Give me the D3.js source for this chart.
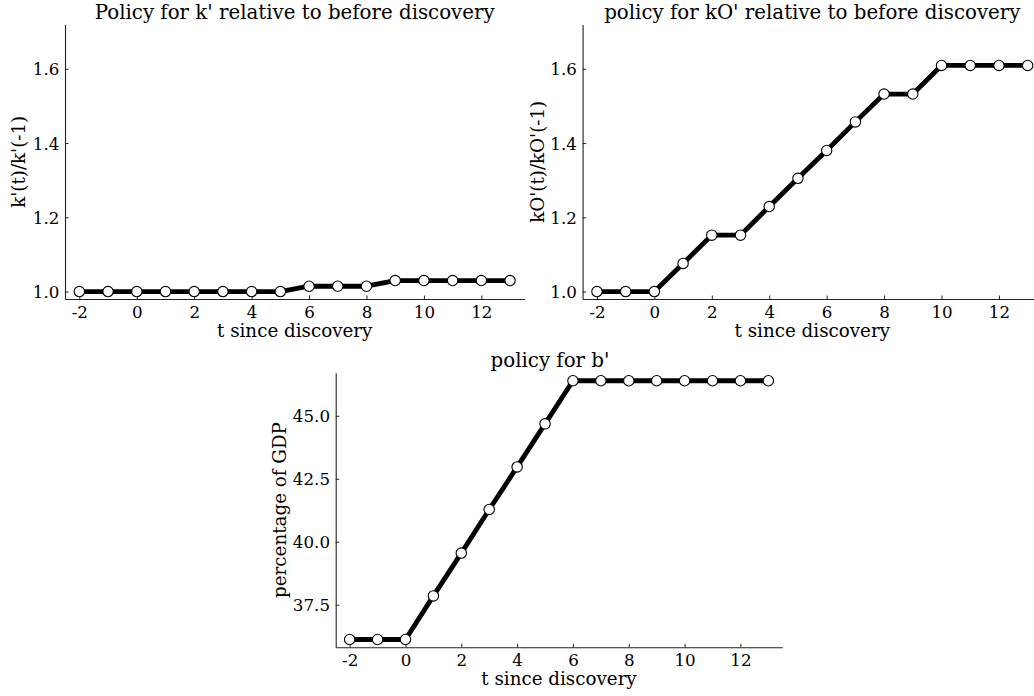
<!DOCTYPE html>
<html>
<head>
<meta charset="utf-8">
<script src="https://cdn.jsdelivr.net/npm/d3@7"></script>
<style>
  html, body { margin: 0; padding: 0; background: #fff; }
  svg { display: block; font-family: "DejaVu Serif", serif; }
  .tick text { font-family: "DejaVu Serif", serif; font-size: 16.7px; fill: #000; }
  .lbl { font-size: 18.3px; fill: #000; }
  .ttl { font-size: 19.8px; fill: #000; }
</style>
</head>
<body>
<svg id="fig" width="1034" height="696"></svg>
<script>
// periods since discovery
var t = [-2, -1, 0, 1, 2, 3, 4, 5, 6, 7, 8, 9, 10, 11, 12, 13];

// k'(t)/k'(-1)
var kRel = [1.0, 1.0, 1.0, 1.0, 1.0, 1.0, 1.0, 1.0, 1.0144, 1.0144, 1.0144, 1.0297, 1.0297, 1.0297, 1.0297, 1.0297];

// kO'(t)/kO'(-1)
var kORel = [1.0, 1.0, 1.0, 1.0757, 1.152, 1.152, 1.229, 1.305, 1.380, 1.457, 1.532, 1.532, 1.609, 1.609, 1.609, 1.609];

// b' en pourcentage du PIB
var bPct = [36.12, 36.12, 36.12, 37.85, 39.55, 41.28, 42.97, 44.68, 46.39, 46.39, 46.39, 46.39, 46.39, 46.39, 46.39, 46.39];

var xTicks = [-2, 0, 2, 4, 6, 8, 10, 12];
var kTicks = [1.0, 1.2, 1.4, 1.6];
var bTicks = [37.5, 40.0, 42.5, 45.0];

var titles = ["Policy for k' relative to before discovery", "policy for kO' relative to before discovery", "policy for b'"];
var yLabels = ["k'(t)/k'(-1)", "kO'(t)/kO'(-1)", "percentage of GDP"];
var xLabel = "t since discovery";

var svg = d3.select("#fig");

// un panneau = un axe matplotlib (spines gauche + bas, ticks vers l'intérieur)
function panel(o) {
  var x = d3.scaleLinear().domain([-2.5, 13.5]).range([o.left, o.right]);
  var y = d3.scaleLinear().domain(o.ydom).range([o.bottom, o.top]);
  var g = svg.append("g");

  // tirets ASCII comme dans l'original ("-2", pas "−2")
  var ax = g.append("g")
      .attr("transform", "translate(0," + o.bottom + ")")
      .call(d3.axisBottom(x).tickValues(xTicks).tickSizeInner(-3.5).tickSizeOuter(0).tickPadding(0).tickFormat(function(d) { return String(d); }));
  ax.attr("font-family", null).attr("font-size", null);
  ax.select(".domain").attr("stroke", "#222").attr("stroke-width", 1.1);
  ax.selectAll(".tick line").attr("stroke", "#222").attr("stroke-width", 1);
  ax.selectAll(".tick text").attr("y", 18.8).attr("dy", null);

  var ay = g.append("g")
      .attr("transform", "translate(" + o.left + ",0)")
      .call(d3.axisLeft(y).tickValues(o.yticks).tickSizeInner(-3.5).tickSizeOuter(0).tickPadding(0).tickFormat(d3.format(".1f")));
  ay.attr("font-family", null).attr("font-size", null);
  ay.select(".domain").attr("stroke", "#222").attr("stroke-width", 1.1);
  ay.selectAll(".tick line").attr("stroke", "#222").attr("stroke-width", 1);
  ay.selectAll(".tick text").attr("x", -5.7).attr("dy", "0.36em");

  var line = d3.line().x(function(d, i) { return x(t[i]); }).y(function(d) { return y(d); });
  g.append("path")
      .datum(o.values)
      .attr("d", line)
      .attr("fill", "none")
      .attr("stroke", "#000")
      .attr("stroke-width", 4.8)
      .attr("stroke-linejoin", "round");

  g.selectAll("circle")
      .data(o.values)
    .enter().append("circle")
      .attr("cx", function(d, i) { return x(t[i]); })
      .attr("cy", function(d) { return y(d); })
      .attr("r", 5.2)
      .attr("fill", "#fff")
      .attr("stroke", "#000")
      .attr("stroke-width", 1.1);

  g.append("text").attr("class", "ttl")
      .attr("x", o.titleX || (o.left + o.right) / 2)
      .attr("y", o.top - 6)
      .attr("text-anchor", "middle")
      .text(o.title);

  g.append("text").attr("class", "lbl")
      .attr("x", (o.left + o.right) / 2)
      .attr("y", o.bottom + 38)
      .attr("text-anchor", "middle")
      .text(xLabel);

  g.append("text").attr("class", "lbl")
      .attr("transform", "translate(" + o.ylabelX + "," + (o.top + o.bottom) / 2 + ") rotate(-90)")
      .attr("dy", "0.36em")
      .attr("text-anchor", "middle")
      .text(o.ylabel);
}

panel({ left: 65, right: 524.4, top: 24.6, bottom: 299, ydom: [0.98, 1.719], yticks: kTicks,
        values: kRel, title: titles[0], ylabel: yLabels[0], ylabelX: 18.3 });
panel({ left: 582.6, right: 1042, top: 24.6, bottom: 299, ydom: [0.98, 1.719], yticks: kTicks,
        values: kORel, title: titles[1], ylabel: yLabels[1], ylabelX: 537 });
panel({ left: 335.7, right: 782.3, top: 372.7, bottom: 647.3, ydom: [35.81, 46.71], yticks: bTicks,
        values: bPct, title: titles[2], ylabel: yLabels[2], ylabelX: 279, titleX: 550 });
</script>
</body>
</html>
